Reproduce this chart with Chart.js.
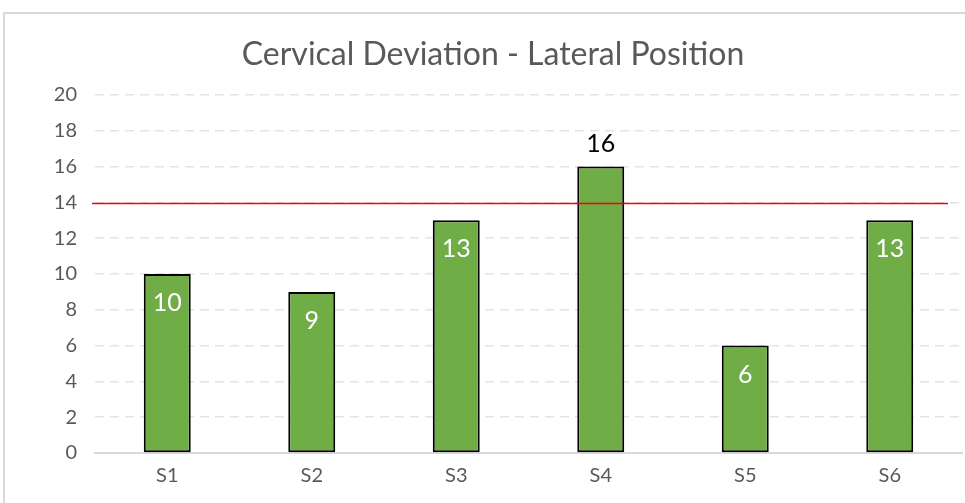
<!DOCTYPE html>
<html>
<head>
  <title>Cervical Deviation - Lateral Position</title>
  <script src="https://cdn.jsdelivr.net/npm/chart.js@4/dist/chart.umd.min.js"></script>
  <style>
    html, body { margin: 0; padding: 0; overflow: hidden; background: #fff; }
    #frame {
      position: absolute; left: 3px; top: 12px; width: 1000px; height: 600px;
      border: 2px solid #d9d9d9; box-sizing: border-box;
    }
    #wrap { position: absolute; left: 0; top: 0; width: 965px; height: 503px; }
  </style>
</head>
<body>
  <div id="frame"></div>
  <div id="wrap"><canvas id="chart"></canvas></div>
  <script>
    var categories = ['S1', 'S2', 'S3', 'S4', 'S5', 'S6'];
    var values = [10, 9, 13, 16, 6, 13];
    var yTicks = [0, 2, 4, 6, 8, 10, 12, 14, 16, 18, 20];
    var limitValue = 14;
    var labelsAbove = ['S4'];

    var fontFamily = 'Lato';
    Chart.defaults.font.family = fontFamily;
    Chart.defaults.color = '#595959';

    // title, red limit line and value labels
    var extras = {
      id: 'extras',
      afterDatasetsDraw: function(chart) {
        var ctx = chart.ctx;
        var area = chart.chartArea;
        var y = chart.scales.y.getPixelForValue(limitValue);
        ctx.save();
        ctx.strokeStyle = '#ff0000';
        ctx.lineWidth = 1.5;
        ctx.beginPath();
        ctx.moveTo(area.left - 3, y + 1);
        ctx.lineTo(area.right - 14, y + 1);
        ctx.stroke();

        ctx.font = '25px ' + fontFamily;
        ctx.textAlign = 'center';
        ctx.textBaseline = 'middle';
        chart.getDatasetMeta(0).data.forEach(function(bar, i) {
          if (labelsAbove.indexOf(categories[i]) >= 0) {
            ctx.fillStyle = '#000000';
            ctx.fillText(values[i], bar.x, bar.y - 23);
          } else {
            ctx.fillStyle = '#ffffff';
            ctx.fillText(values[i], bar.x, bar.y + 29);
          }
        });

        ctx.fillStyle = '#595959';
        ctx.font = '32px ' + fontFamily;
        ctx.fillText('Cervical Deviation - Lateral Position', 493, 55);
        ctx.restore();
      }
    };

    new Chart(document.getElementById('chart'), {
      type: 'bar',
      data: {
        labels: categories,
        datasets: [{
          data: values,
          backgroundColor: '#70ad47',
          borderColor: '#000000',
          borderWidth: 2,
          borderSkipped: false,
          barPercentage: 0.65,
          categoryPercentage: 0.5
        }]
      },
      options: {
        responsive: true,
        maintainAspectRatio: false,
        animation: false,
        layout: { padding: { top: 95, right: 3, left: 0, bottom: 0 } },
        plugins: {
          legend: { display: false },
          tooltip: { enabled: false },
          title: { display: false }
        },
        scales: {
          x: {
            grid: { display: false, drawTicks: false },
            border: { color: '#d9d9d9', width: 2 },
            ticks: { color: '#595959', font: { size: 20 }, padding: 11 },
            afterFit: function(scale) { scale.height = 50; }
          },
          y: {
            min: 0,
            max: 20,
            afterBuildTicks: function(scale) {
              scale.ticks = yTicks.map(function(v) { return { value: v }; });
            },
            grid: { color: '#e4e4e4', lineWidth: 1.5, drawTicks: false },
            border: { display: false, dash: [9, 6] },
            ticks: { color: '#595959', font: { size: 20 }, padding: 18 },
            afterFit: function(scale) { scale.width = 95; }
          }
        }
      },
      plugins: [extras]
    });
  </script>
</body>
</html>
